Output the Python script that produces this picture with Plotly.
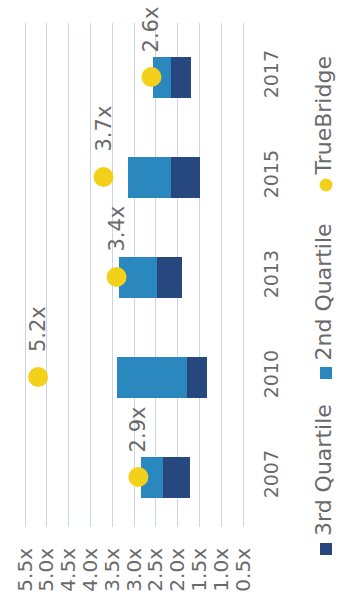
import plotly.graph_objects as go

# Vintage years and TVPI quartile breakpoints
years = ["2007", "2010", "2013", "2015", "2017"]
lower_quartile = [1.72, 1.33, 1.90, 1.49, 1.69]
median = [2.33, 1.78, 2.47, 2.15, 2.15]
upper_quartile = [2.84, 3.39, 3.34, 3.14, 2.56]
truebridge = [2.9, 5.2, 3.4, 3.7, 2.6]
tick_values = [0.5, 1.0, 1.5, 2.0, 2.5, 3.0, 3.5, 4.0, 4.5, 5.0, 5.5]
tick_labels = ["0.5x", "1.0x", "1.5x", "2.0x", "2.5x", "3.0x", "3.5x", "4.0x", "4.5x", "5.0x", "5.5x"]

DARK = "#27487f"
LIGHT = "#2a88bf"
GOLD = "#f3d11a"
TEXT = "#6a6a6a"
FONT = "DejaVu Sans"
FS = 19

W, H = 337, 598
L, R, T, B = 20, 85, 23, 71
PW, PH = W - L - R, H - T - B


def px(x):
    return (x - L) / PW


def py(y):
    return (H - B - y) / PH


fig = go.Figure()

fig.add_trace(go.Bar(
    y=years, x=[m - lo for m, lo in zip(median, lower_quartile)], base=lower_quartile,
    orientation="h", marker=dict(color=DARK, line=dict(width=0)), width=0.41,
    name="3rd Quartile", showlegend=False,
))
fig.add_trace(go.Bar(
    y=years, x=[u - m for u, m in zip(upper_quartile, median)], base=median,
    orientation="h", marker=dict(color=LIGHT, line=dict(width=0)), width=0.41,
    name="2nd Quartile", showlegend=False,
))
fig.add_trace(go.Scatter(
    y=years, x=truebridge, mode="markers",
    marker=dict(color=GOLD, size=20, line=dict(width=0)),
    name="TrueBridge", showlegend=False,
))

# Value labels beside each TrueBridge marker (category index used for y)
annotations = []
for i, v in enumerate(truebridge):
    annotations.append(dict(
        x=v, y=i, xref="x", yref="y", text=f"{v:.1f}x", showarrow=False,
        textangle=-90, yshift=48, font=dict(family=FONT, size=21, color=TEXT),
    ))

# Legend, drawn vertically along the right edge
legend_items = [
    ("3rd Quartile", DARK, "rect", 549, 538),
    ("2nd Quartile", LIGHT, "rect", 373, 363),
    ("TrueBridge", GOLD, "circle", 185, 178),
]
shapes = []
for label, color, kind, cy, text_bottom in legend_items:
    half = 6 if kind == "rect" else 6.5
    shapes.append(dict(
        type=kind, xref="paper", yref="paper",
        x0=px(326 - half), x1=px(326 + half), y0=py(cy + half), y1=py(cy - half),
        fillcolor=color, line=dict(width=0),
    ))
    annotations.append(dict(
        x=px(323), y=py(text_bottom), xref="paper", yref="paper", text=label,
        showarrow=False, textangle=-90, xanchor="center", yanchor="bottom",
        font=dict(family=FONT, size=22, color=TEXT),
    ))

fig.update_layout(
    width=W, height=H, margin=dict(l=L, r=R, t=T, b=B, autoexpand=False),
    paper_bgcolor="white", plot_bgcolor="white",
    barmode="overlay", bargap=0,
    font=dict(family=FONT, size=FS, color=TEXT),
    annotations=annotations, shapes=shapes,
    xaxis=dict(
        range=[5.615, 0.294], tickvals=tick_values, ticktext=tick_labels,
        tickangle=-90, showgrid=True, gridcolor="#cbd5e5", gridwidth=1.3,
        zeroline=False, showline=False, ticks="", ticklabelstandoff=16,
        tickfont=dict(family=FONT, size=20, color=TEXT), automargin=False,
    ),
    yaxis=dict(
        type="category", categoryorder="array", categoryarray=years,
        range=[-0.5, 4.54], side="right", tickangle=-90, showgrid=False,
        zeroline=False, showline=False, ticks="", ticklabelstandoff=6,
        tickfont=dict(family=FONT, size=FS, color=TEXT), automargin=False,
    ),
)

fig.write_html("out.html")
